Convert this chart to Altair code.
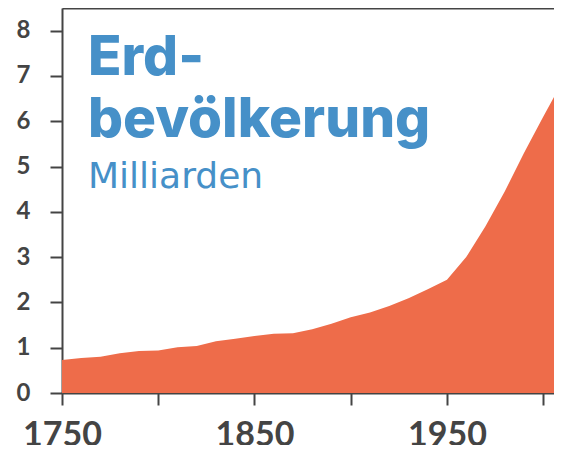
import altair as alt
import pandas as pd

years = [1750, 1760, 1770, 1780, 1790, 1800, 1810, 1820, 1830, 1840, 1850,
         1860, 1870, 1880, 1890, 1900, 1910, 1920, 1930, 1940, 1950, 1960,
         1970, 1980, 1990, 2000, 2010]
population = [0.73, 0.77, 0.80, 0.88, 0.93, 0.94, 1.01, 1.04, 1.14, 1.20, 1.26,
              1.31, 1.32, 1.41, 1.53, 1.67, 1.78, 1.92, 2.09, 2.29, 2.50, 3.00,
              3.68, 4.45, 5.30, 6.10, 6.88]
x_ticks = [1750, 1800, 1850, 1900, 1950, 2000]
y_ticks = [0, 1, 2, 3, 4, 5, 6, 7, 8]

df = pd.DataFrame({"Jahr": years, "Milliarden": population})

BLUE = "#4690c8"
ORANGE = "#ee6c4a"
AXIS = "#444444"

x_scale = alt.Scale(domain=[1750, 2005.6], nice=False, zero=False)
y_scale = alt.Scale(domain=[0, 8.5], nice=False)

y_axis = alt.Axis(values=y_ticks, title=None, grid=False,
                  labelFont="Lato", labelFontSize=24,
                  labelFontWeight="bold", labelColor=AXIS,
                  tickSize=12, tickWidth=2, tickColor=AXIS,
                  domainColor=AXIS, domainWidth=2, labelPadding=20,
                  labelFlush=False, labelOverlap=False)

area = alt.Chart(df).mark_area(color=ORANGE, opacity=1, clip=True).encode(
    x=alt.X("Jahr:Q", scale=x_scale,
            axis=alt.Axis(values=x_ticks, format="d", orient="bottom",
                          labelExpr="datum.value % 100 == 50 ? datum.label : ''",
                          title=None, grid=False, labelFont="Lato",
                          labelFontSize=34, labelFontWeight="bold",
                          labelColor=AXIS, tickSize=12, tickWidth=2,
                          tickColor=AXIS, domainColor=AXIS, domainWidth=2,
                          labelPadding=13, labelFlush=False, labelOverlap=False)),
    y=alt.Y("Milliarden:Q", scale=y_scale, axis=y_axis),
)

top_line = alt.Chart(df).mark_area(opacity=0, clip=True).encode(
    x=alt.X("Jahr:Q", scale=x_scale,
            axis=alt.Axis(orient="top", labels=False, ticks=False, title=None,
                          grid=False, domainColor=AXIS, domainWidth=2)),
    y=alt.Y("Milliarden:Q", scale=y_scale, axis=y_axis),
)

chart = alt.layer(area, top_line).resolve_axis(x="independent").properties(
    width=492,
    height=385,
    autosize=alt.AutoSizeParams(type="none"),
    padding={"left": 54, "top": 0, "right": 0, "bottom": 52},
    title=alt.TitleParams(
        text=["Erd-", "bevölkerung"],
        subtitle="Milliarden",
        anchor="start",
        orient="top",
        frame="group",
        dx=26,
        offset=-188,
        font="Inter",
        fontSize=55,
        fontWeight=800,
        lineHeight=62,
        color=BLUE,
        subtitleFont="DejaVu Sans",
        subtitleFontSize=36,
        subtitleFontWeight=400,
        subtitleColor=BLUE,
        subtitlePadding=11,
    ),
).configure_view(strokeWidth=0)

chart.save("out.html", embed_options={"renderer": "svg", "actions": False})
